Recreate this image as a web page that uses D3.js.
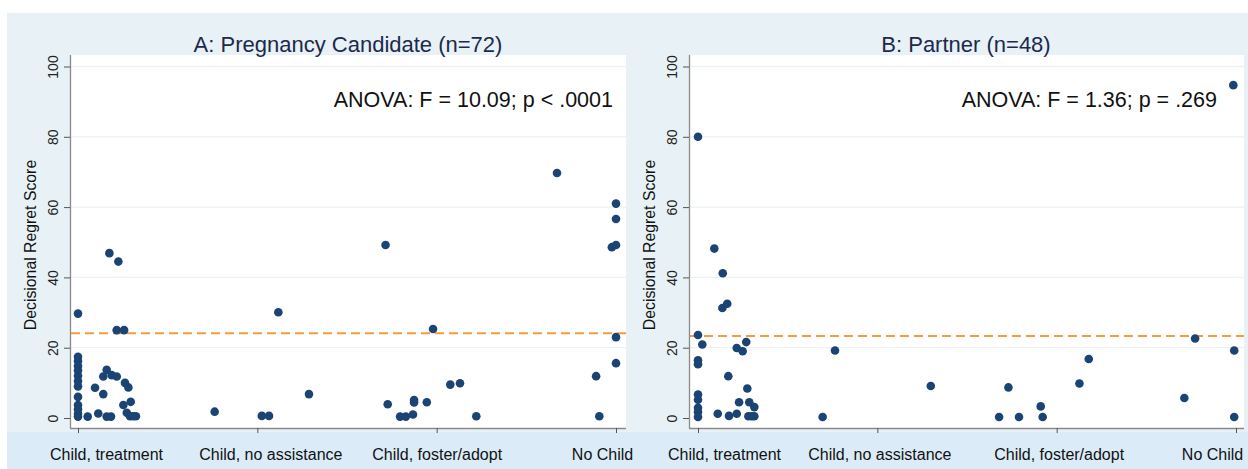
<!DOCTYPE html>
<html>
<head>
<meta charset="utf-8">
<script src="https://cdn.jsdelivr.net/npm/d3@7"></script>
<style>
  body { margin: 0; background: #fff; }
  svg text { font-family: "Liberation Sans", Arial, sans-serif; }
</style>
</head>
<body>
<div id="chart"></div>
<script>
// categories on the x axis (positions 0..3, points are jittered around them)
var categories = ["Child, treatment", "Child, no assistance", "Child, foster/adopt", "No Child"];
var yTicks = [0, 20, 40, 60, 80, 100];

// A: pregnancy candidate
var aX = [0, 0, 0, 0, 0, 0, 0, 0, 0, 0, 0, 0, 0,
  0.054, 0.095, 0.113, 0.141, 0.141, 0.160, 0.160, 0.175, 0.184, 0.188, 0.216, 0.216, 0.225,
  0.253, 0.257, 0.262, 0.272, 0.281, 0.290, 0.294, 0.307, 0.323,
  0.762, 1.025, 1.065, 1.117, 1.288,
  1.715, 1.727, 1.796, 1.828, 1.868, 1.874, 1.874, 1.945, 1.980, 2.076, 2.130, 2.221,
  2.671, 2.889, 2.907, 2.977, 3, 3, 3, 3, 3];
var aY = [29.7, 17.4, 16.2, 14.8, 13.5, 12.0, 10.5, 9.0, 6.0, 3.7, 2.5, 1.2, 0.4,
  0.4, 8.6, 1.3, 6.8, 11.8, 13.7, 0.4, 46.9, 0.4, 12.2, 11.8, 25.0, 44.5,
  3.7, 25.0, 10.0, 1.5, 8.7, 0.5, 4.6, 0.5, 0.5,
  1.8, 0.6, 0.6, 30.1, 6.8,
  49.2, 3.9, 0.4, 0.4, 1.0, 5.1, 4.4, 4.5, 25.3, 9.5, 9.9, 0.5,
  69.7, 11.9, 0.5, 48.6, 61.0, 56.6, 49.2, 23.0, 15.6];
var aMean = 24.1;

// B: partner
var bX = [0, 0, 0, 0, 0, 0, 0, 0, 0,
  0.024, 0.091, 0.110, 0.136, 0.138, 0.163, 0.169, 0.173, 0.216, 0.216, 0.229, 0.249, 0.269,
  0.275, 0.281, 0.286, 0.300, 0.314, 0.314,
  0.695, 0.764, 1.298,
  1.679, 1.731, 1.790, 1.911, 1.922, 2.127, 2.179,
  2.712, 2.772, 2.990, 2.990, 2.985];
var bY = [80.0, 23.6, 16.4, 15.3, 6.7, 5.2, 2.9, 1.7, 0.3,
  20.9, 48.2, 1.2, 31.3, 41.2, 32.5, 11.9, 0.6, 19.9, 1.2, 4.5, 19.0, 21.6,
  8.4, 0.5, 4.5, 0.5, 3.1, 0.5,
  0.3, 19.2, 9.1,
  0.3, 8.7, 0.3, 3.3, 0.3, 9.8, 16.8,
  5.7, 22.6, 19.2, 0.3, 94.7];
var bMean = 23.3;

var W = 1248, H = 469;
var svg = d3.select('#chart').append('svg')
  .attr('width', W)
  .attr('height', H);

// backgrounds
svg.append('rect').attr('x', 7).attr('y', 13).attr('width', W - 7).attr('height', 419)
  .attr('fill', '#e8f1f5');
svg.append('rect').attr('x', 7).attr('y', 432).attr('width', W - 7).attr('height', H - 432)
  .attr('fill', '#dbecf8');

var y = d3.scaleLinear().domain([0, 100]).range([418, 66.5]);

var panels = [
  { title: 'A: Pregnancy Candidate (n=72)', anova: 'ANOVA: F = 10.09; p < .0001',
    xs: aX, ys: aY, mean: aMean, left: 70, right: 626, x0: 78, x3: 616,
    titleX: 348, anovaX: 613, yTitleX: 36, labelShift: [28, 13, 0, -14] },
  { title: 'B: Partner (n=48)', anova: 'ANOVA: F = 1.36; p = .269',
    xs: bX, ys: bY, mean: bMean, left: 689, right: 1244, x0: 698, x3: 1236,
    titleX: 966, anovaX: 1217, yTitleX: 655, labelShift: [26, 2, 2, -24] }
];

panels.forEach(function (p) {
  var x = d3.scaleLinear().domain([0, 3]).range([p.x0, p.x3]);
  var g = svg.append('g');

  // white plot region
  g.append('rect').attr('x', p.left).attr('y', 55)
    .attr('width', p.right - p.left).attr('height', 428 - 55)
    .attr('fill', '#fff');

  // faint gridlines
  g.selectAll('line.grid').data(yTicks.slice(1)).enter().append('line')
    .attr('class', 'grid')
    .attr('x1', p.left).attr('x2', p.right)
    .attr('y1', function (d) { return y(d); })
    .attr('y2', function (d) { return y(d); })
    .attr('stroke', '#eaf2f5').attr('stroke-width', 1.3);

  // y axis
  var ya = g.append('g').attr('transform', 'translate(' + p.left + ',0)')
    .call(d3.axisLeft(y).tickValues(yTicks).tickSize(6).tickPadding(4).tickFormat(d3.format('d')));
  ya.select('.domain').attr('d', 'M0.5,55V428').attr('stroke', '#8a8a8a').attr('stroke-width', 1.3);
  ya.selectAll('.tick line').attr('stroke', '#555');
  ya.selectAll('.tick text')
    .attr('transform', 'rotate(-90)')
    .attr('x', 0).attr('y', -12)
    .attr('dy', 0)
    .attr('text-anchor', 'middle')
    .attr('font-size', 14).attr('fill', '#222');

  // x axis
  var xa = g.append('g').attr('transform', 'translate(0,428)')
    .call(d3.axisBottom(x).tickValues([0, 1, 2, 3]).tickSize(5).tickPadding(16)
      .tickFormat(function (d) { return categories[d]; }));
  xa.select('.domain').attr('d', 'M' + p.left + ',0.5H' + p.right).attr('stroke', '#8a8a8a').attr('stroke-width', 1.3);
  xa.selectAll('.tick line').attr('stroke', '#555');
  xa.selectAll('.tick text')
    .attr('x', function (d) { return p.labelShift[d]; })
    .attr('font-size', 16).attr('fill', '#111')
    .style('font-family', '"Liberation Sans Narrow", "Arial Narrow", sans-serif');

  // mean line
  g.append('line')
    .attr('x1', p.left + 1).attr('x2', p.right)
    .attr('y1', y(p.mean)).attr('y2', y(p.mean))
    .attr('stroke', '#f59c3c').attr('stroke-width', 2)
    .attr('stroke-dasharray', '9,5');

  // points
  g.selectAll('circle').data(p.xs).enter().append('circle')
    .attr('cx', function (d) { return x(d); })
    .attr('cy', function (d, i) { return y(p.ys[i]); })
    .attr('r', 4.3)
    .attr('fill', '#1b4373');

  // titles
  g.append('text').attr('x', p.titleX).attr('y', 52)
    .attr('text-anchor', 'middle').attr('font-size', 22).attr('fill', '#1c2a4d')
    .text(p.title);
  g.append('text').attr('x', p.anovaX).attr('y', 107)
    .attr('text-anchor', 'end').attr('font-size', 21.5).attr('fill', '#111')
    .text(p.anova);
  g.append('text')
    .attr('transform', 'translate(' + p.yTitleX + ',245) rotate(-90)')
    .attr('text-anchor', 'middle').attr('font-size', 15.8).attr('fill', '#111')
    .text('Decisional Regret Score');
});
</script>
</body>
</html>
